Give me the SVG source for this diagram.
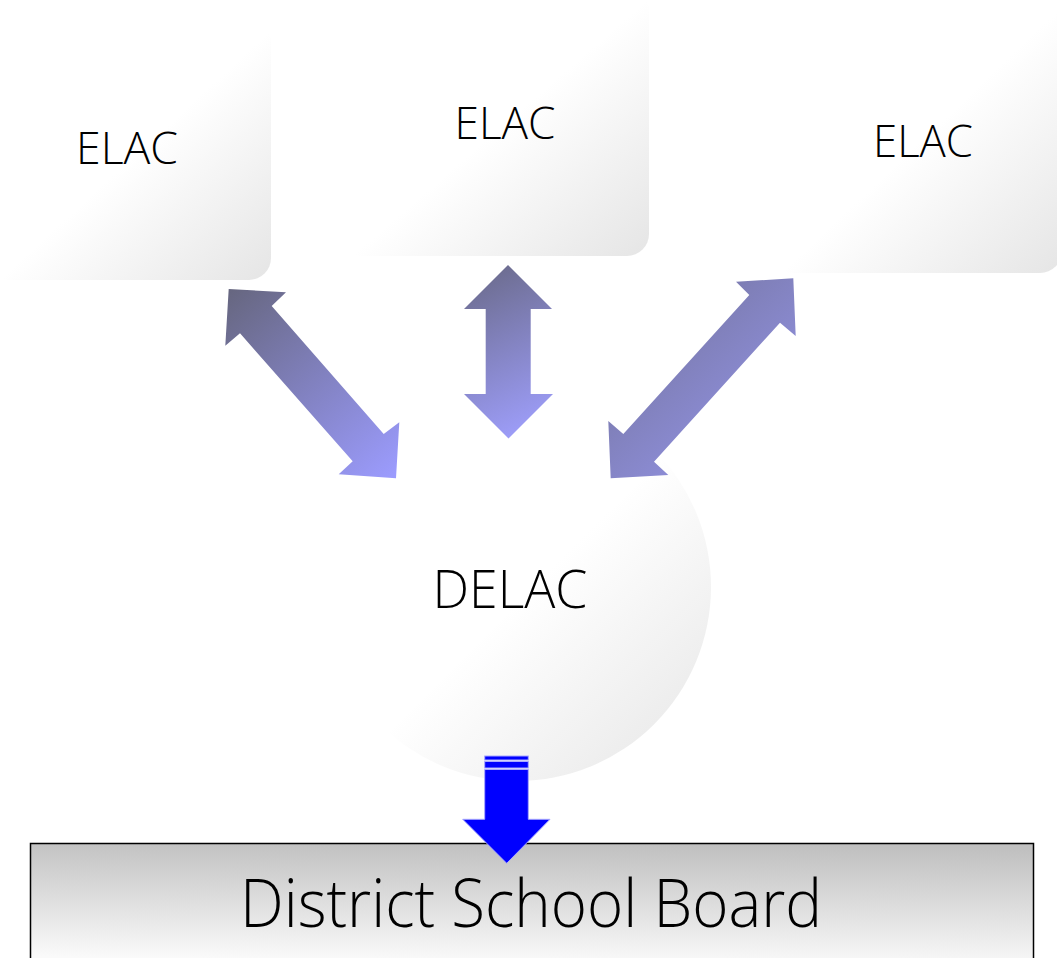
<svg xmlns="http://www.w3.org/2000/svg" width="1057" height="958" viewBox="0 0 1057 958">
  <defs>
    <linearGradient id="softFill" x1="0" y1="0" x2="1" y2="1">
      <stop offset="0" stop-color="#ffffff"/>
      <stop offset="0.52" stop-color="#ffffff"/>
      <stop offset="1" stop-color="#e5e5e5"/>
    </linearGradient>
    <linearGradient id="boardFill" x1="0.55" y1="0" x2="0.45" y2="1">
      <stop offset="0" stop-color="#c0c0c0"/>
      <stop offset="1" stop-color="#fafafa"/>
    </linearGradient>
    <linearGradient id="arrowLeft" gradientUnits="userSpaceOnUse" x1="228" y1="289" x2="396" y2="478">
      <stop offset="0" stop-color="#66667f"/>
      <stop offset="1" stop-color="#9c9cff"/>
    </linearGradient>
    <linearGradient id="arrowMid" gradientUnits="userSpaceOnUse" x1="470" y1="270" x2="550" y2="430">
      <stop offset="0" stop-color="#6a6a8a"/>
      <stop offset="1" stop-color="#a0a0ff"/>
    </linearGradient>
    <linearGradient id="arrowRight" gradientUnits="userSpaceOnUse" x1="620" y1="290" x2="790" y2="470">
      <stop offset="0" stop-color="#72729a"/>
      <stop offset="1" stop-color="#9898f0"/>
    </linearGradient>
    <style>
      .label { font-family: "Open Sans", "Liberation Sans", sans-serif; font-weight: 300; fill: #000000; text-anchor: middle; }
      .soft { fill: url(#softFill); }
      .blue { fill: #0000ff; stroke: #a8a8ff; stroke-width: 1; }
    </style>
  </defs>

  <g id="elac-left">
    <rect class="soft" x="-12" y="20" width="283" height="260" rx="22"/>
    <text class="label" x="127" y="164" font-size="45" textLength="102" lengthAdjust="spacingAndGlyphs">ELAC</text>
  </g>

  <g id="elac-middle">
    <rect class="soft" x="340" y="-12" width="309" height="268" rx="22"/>
    <text class="label" x="505" y="139" font-size="45" textLength="101" lengthAdjust="spacingAndGlyphs">ELAC</text>
  </g>

  <g id="elac-right">
    <rect class="soft" x="770" y="-4" width="292" height="277" rx="22"/>
    <text class="label" x="923" y="157" font-size="45" textLength="100" lengthAdjust="spacingAndGlyphs">ELAC</text>
  </g>

  <g id="delac">
    <circle class="soft" cx="517" cy="587" r="194"/>
    <text class="label" x="510" y="608" font-size="54" textLength="155" lengthAdjust="spacingAndGlyphs">DELAC</text>
  </g>

  <g id="district-board">
    <rect x="30.5" y="843.5" width="1003" height="118" fill="url(#boardFill)" stroke="#000000" stroke-width="1.5"/>
    <text class="label" x="531" y="927" font-size="66" textLength="582" lengthAdjust="spacingAndGlyphs">District School Board</text>
  </g>

  <g id="connectors">
    <!-- ELAC (left) to DELAC -->
    <polygon fill="url(#arrowLeft)" points="228.7,289 286,292.3 271.7,306 383.7,434 399.3,422.3 396,478.3 338.7,474.3 352.7,461.3 240,333.3 225.3,345.7"/>
    <!-- ELAC (middle) to DELAC -->
    <polygon fill="url(#arrowMid)" points="508,265 552,309 530.7,309 530.7,394 553,394 508.5,438.5 464,394 485.7,394 485.7,309 464,309"/>
    <!-- ELAC (right) to DELAC -->
    <polygon fill="url(#arrowRight)" points="793.3,278.3 795.7,336 780,322.7 654,461.7 668.3,475 610.7,478.3 608.3,421 623.3,434 749.3,295 736,281.7"/>
    <!-- DELAC to District School Board -->
    <rect class="blue" x="484.7" y="756" width="43.6" height="4"/>
    <rect class="blue" x="484.7" y="761.5" width="43.6" height="6.5"/>
    <polygon class="blue" points="484.7,769.5 528.3,769.5 528.3,819.3 550,819.3 506.7,863.3 462.7,819.3 484.7,819.3"/>
  </g>
</svg>
